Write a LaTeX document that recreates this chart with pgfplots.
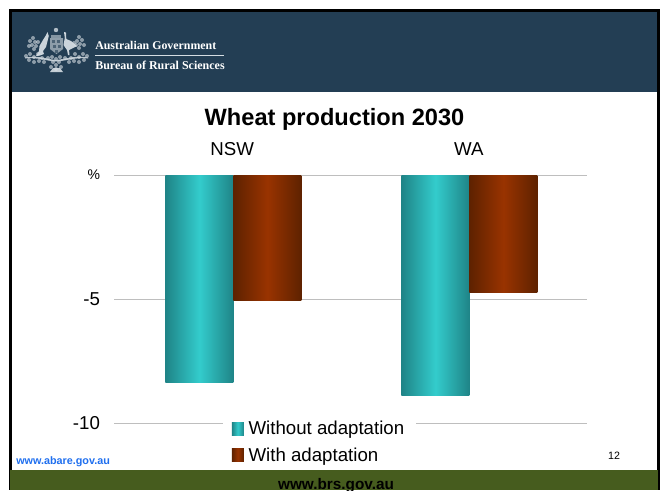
\documentclass[border=0pt]{standalone}
\usepackage{pgfplots}
\pgfplotsset{compat=1.18}
\usepackage{fontspec}
\setmainfont{Liberation Sans}
\newfontfamily\serifhead{Liberation Serif}
\definecolor{headnavy}{HTML}{233E54}
\definecolor{footolive}{HTML}{465C1E}
\definecolor{crest}{HTML}{D5DDE3}
\definecolor{linkblue}{HTML}{1F6FEF}
\definecolor{gridgrey}{HTML}{BEBEBE}
\definecolor{tealedge}{HTML}{1F8487}
\definecolor{tealmid}{HTML}{33CCCC}
\definecolor{brownedge}{HTML}{5E2200}
\definecolor{brownmid}{HTML}{993300}
\begin{document}
\begin{tikzpicture}
% page frame, one unit is one pixel, origin top left
\begin{scope}[x=0.75pt,y=-0.75pt]
  \useasboundingbox (0,0) rectangle (666,490);
  \begin{scope}
    \clip (0,0) rectangle (666,490);
    \fill[white] (0,0) rectangle (666,490);
    \fill[black] (9,9) rectangle (660,490);
    \fill[white] (12,12) rectangle (657,490);
    \fill[headnavy] (12,12) rectangle (657,92);
    \fill[footolive] (10,470) rectangle (658,490);
    \node[font=\fontsize{11.5}{12}\selectfont\bfseries,text=black,anchor=base] at (336,489) {www.brs.gov.au};
  \end{scope}
  % coat of arms
  \begin{scope}[crest]
    \fill[opacity=.8] (56,30) circle (2.2);
    \fill[opacity=.55] (51,35) rectangle (61,37.5);
    % shield
    \fill[opacity=.6] (50,38) -- (63,38) -- (63,49) -- (56.5,54) -- (50,49) -- cycle;
    \foreach \a/\b in {52/40,57/40,53/45,58/45,55/50}
      \fill[headnavy,opacity=.6] (\a,\b) rectangle ++(3,2.6);
    % kangaroo
    \fill[opacity=.95] (47.5,32) -- (48.8,36) -- (47.5,41) -- (46,47) -- (43,51) -- (44,54) -- (40,55.5) -- (36,56) -- (39,51) -- (39.5,46) -- (43,40) -- (45.5,36) -- cycle;
    % emu
    \fill[opacity=.95] (64,32) -- (66,32.5) -- (66.3,39) -- (71,41) -- (77,46) -- (72,48.5) -- (69,50) -- (69.5,55) -- (68,55) -- (67,50) -- (63.5,45) -- (64.8,38) -- cycle;
    % wattle either side and the spray below
    \foreach \p/\q in {33/38,30/41,35/42,32/45,36/46,29/46,34/49,38/42,
                       79/37,82/40,77/41,80/44,84/45,76/45,79/48,74/43,
                       26/56,30/54,34/57,38/54,42/58,29/60,34/62,39/61,44/62,48/58,
                       87/56,83/54,79/57,75/54,71/58,84/60,79/62,74/61,69/62,65/58,
                       52/57,56/59,60/57,53/62,59/62,56/65,51/67,61/67,56/69}
      \fill[opacity=.6] (\p,\q) circle (2);
    \fill[opacity=.85] (25,57.5) .. controls (38,55) and (46,59) .. (56,60) .. controls (66,59) and (76,55) .. (88,57.5) -- (88,58.5) .. controls (76,57) and (66,61) .. (56,61.5) .. controls (46,61) and (38,57) .. (25,58.5) -- cycle;
    \fill[opacity=.9] (53,68) -- (60,68) -- (63,72) -- (50,72) -- cycle;
  \end{scope}
  \node[font=\serifhead\fontsize{8.9}{10}\selectfont\bfseries,text=white,anchor=base west,inner sep=0pt] at (95,49.5) {Australian Government};
  \fill[crest] (95,55) rectangle (224,56);
  \node[font=\serifhead\fontsize{9}{10}\selectfont\bfseries,text=white,anchor=base west,inner sep=0pt] at (95,69.5) {Bureau of Rural Sciences};
  \node[font=\fontsize{17.7}{20}\selectfont\bfseries,anchor=base] at (334.5,125) {Wheat production 2030};
  \node[font=\fontsize{8.1}{9}\selectfont\bfseries,text=linkblue,anchor=base west,inner sep=0pt] at (16,464) {www.abare.gov.au};
  \node[font=\fontsize{8}{9}\selectfont,anchor=base,inner sep=0pt] at (614,459) {12};
\end{scope}
% bars and gridlines
\begin{axis}[
  at={(85.5pt,-317.25pt)}, anchor=south west,
  scale only axis, width=354.75pt, height=186pt,
  xmin=0, xmax=2, ymin=-10, ymax=0,
  axis line style={draw=none},
  xtick={0.5,1.5}, xticklabels={NSW,WA},
  xticklabel pos=upper,
  ytick={0,-5,-10}, yticklabels={{\fontsize{10.5}{12}\selectfont\%\hspace{2.25pt}},-5,-10},
  major tick length=0pt,
  ymajorgrids, grid style={gridgrey,line width=0.75pt},
  tick label style={font=\fontsize{14}{16}\selectfont},
  xticklabel style={yshift=11pt},
  yticklabel style={xshift=-7pt},
  ybar, bar width=51pt,
  legend cell align=left,
  legend style={at={(axis cs:0.458,-9.64)}, anchor=north west, draw=none, fill=white,
    font=\fontsize{14}{16}\selectfont, inner xsep=7pt, inner ysep=3pt,
    row sep=4.2pt},
  legend image code/.code={\fill[#1,draw=none] (0pt,-4.9pt) rectangle (9pt,4.9pt);\path (10.5pt,0pt);},
  teal bar/.style={draw=none, bar shift=-25.5pt, left color=tealedge, right color=tealedge, middle color=tealmid},
  brown bar/.style={draw=none, bar shift=25.5pt, left color=brownedge, right color=brownedge, middle color=brownmid},
]
% one plot per bar, so each bar carries its own full gradient
\addplot[teal bar] coordinates {(0.505,-8.35)};
\addlegendentry{Without adaptation\hspace{1.5pt}}
\addplot[brown bar] coordinates {(0.505,-5.05)};
\addlegendentry{With adaptation}
\addplot[teal bar, forget plot] coordinates {(1.503,-8.9)};
\addplot[brown bar, forget plot] coordinates {(1.503,-4.75)};
\end{axis}
\end{tikzpicture}
\end{document}
